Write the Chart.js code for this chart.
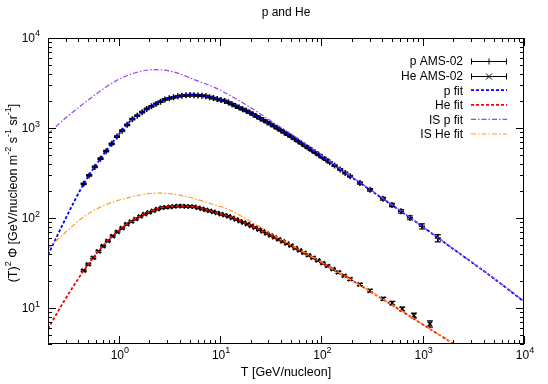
<!DOCTYPE html>
<html>
<head>
<meta charset="utf-8">
<script src="https://cdn.jsdelivr.net/npm/chart.js@4.4.0/dist/chart.umd.min.js"></script>
<style>
  html, body { margin: 0; padding: 0; background: #fff; }
</style>
</head>
<body>
<canvas id="c" width="548" height="384"></canvas>
<script>
// ---- data (T in GeV/nucleon, T^2 * flux) ----
const pT = [0.45,0.51,0.58,0.66,0.75,0.85,0.96,1.08,1.21,1.36,1.52,1.70,1.89,2.10,2.33,2.58,2.85,3.15,3.47,3.82,
  4.20,4.61,5.05,5.53,6.05,6.61,7.22,7.88,8.59,9.36,10.2,11.1,12.1,13.1,14.2,15.4,16.7,18.1,19.6,21.2,
  23.0,24.9,26.9,29.1,31.5,34.0,36.8,39.8,43.0,46.5,50.3,54.4,58.8,63.6,68.8,74.4,80.5,87.0,94.1,102,
  111,121,135,153,172,192,240,302,405,497,610,748,982,1410];
const pV = [240,298,370,457,553,668,804,935,1086,1255,1371,1500,1630,1746,1853,1964,2080,2138,2193,2254,
  2291,2307,2323,2317,2301,2291,2259,2203,2153,2099,2047,2000,1916,1839,1762,1687,1618,1552,1486,1416,
  1344,1280,1219,1161,1104,1048,993,940,893,847,802,757,715,675,636,600,566,534,504,474,
  445,416,383,347,317,292,245,206,164,140,119,101,81,60];
// relative errors
const pErr = [0.02,0.02,0.02,0.02,0.02,0.02,0.02,0.02,0.02,0.02,0.02,0.02,0.02,0.02,0.02,0.02,0.02,0.02,0.02,0.02,
  0.02,0.02,0.02,0.02,0.02,0.02,0.02,0.02,0.02,0.02,0.02,0.02,0.02,0.02,0.02,0.02,0.02,0.02,0.02,0.02,
  0.02,0.02,0.02,0.02,0.02,0.02,0.02,0.02,0.02,0.02,0.02,0.02,0.02,0.02,0.02,0.02,0.02,0.02,0.02,0.02,
  0.02,0.02,0.02,0.02,0.02,0.025,0.03,0.03,0.035,0.04,0.045,0.05,0.065,0.09];

const heT = [0.45,0.50,0.56,0.63,0.70,0.78,0.87,0.97,1.08,1.20,1.33,1.47,1.63,1.80,1.99,2.19,2.41,2.66,2.92,3.21,
  3.52,3.86,4.23,4.63,5.07,5.54,6.06,6.61,7.21,7.87,8.58,9.35,10.2,11.1,12.1,13.2,14.4,15.7,17.1,18.6,
  20.3,22.2,24.2,26.4,28.8,31.5,34.5,37.8,41.5,45.6,50.1,55.2,60.9,67.3,74.5,82.7,92.1,103,115,130,
  147,168,192,240,302,408,500,628,819,1178];
const heV = [26.1,30.6,36.3,42.8,48.8,55.8,63.2,70.2,77.4,85.7,91.6,97.7,104.5,110.9,115.8,120.6,125.8,130.3,131.9,133.5,
  135.2,136.2,135.8,135.2,134.6,133.7,130.3,126.9,123.6,120.5,117.2,114.0,110.7,107.7,104.5,100.4,96.6,92.7,89.2,85.7,
  82.0,78.2,74.6,71.1,67.8,64.4,61.2,58.1,55.1,52.2,49.5,46.5,43.9,41.2,38.7,36.3,33.9,31.6,29.4,27.1,
  25.0,22.9,21.0,18.3,15.6,12.7,11.4,9.8,8.3,6.7];
const heErr = [0.02,0.02,0.02,0.02,0.02,0.02,0.02,0.02,0.02,0.02,0.02,0.02,0.02,0.02,0.02,0.02,0.02,0.02,0.02,0.02,
  0.02,0.02,0.02,0.02,0.02,0.02,0.02,0.02,0.02,0.02,0.02,0.02,0.02,0.02,0.02,0.02,0.02,0.02,0.02,0.02,
  0.02,0.02,0.02,0.02,0.02,0.02,0.02,0.02,0.02,0.02,0.02,0.02,0.02,0.02,0.02,0.02,0.02,0.02,0.02,0.02,
  0.025,0.025,0.03,0.03,0.035,0.04,0.045,0.05,0.06,0.08];

// fit curves
const pFitT = [0.2,0.3,0.45,0.62,0.95,1.34,1.96,2.86,4,5.2,7,11.2,19,30,50,100,192,500,748,1000,2000,5000,10000];
const pFitV = [39,100,240,415,792,1240,1680,2080,2280,2330,2280,1995,1515,1140,805,482,292,139,101,80,45.5,21.5,11.8];
const heFitT = [0.2,0.27,0.32,0.4,0.45,0.6,0.83,1.2,1.76,2.6,3.76,5.5,8,12,19,25,50,100,192,500,1000,2028,5000];
const heFitV = [5.9,10.6,14.5,21.4,26.1,40.3,60.4,85.7,110,130,136.5,134,120,105,85,73.5,49.5,32.2,21.0,10.8,6.6,4.0,2.1];
const isPT = [0.2,0.3,0.43,0.6,0.92,1.3,2.2,3.5,5.5,8.9,19,30,50,100,200,500,1000,2000,5000,10000];
const isPV = [863,1300,1800,2400,3300,3950,4450,4200,3460,2810,1750,1250,860,500,287,141,80.5,45.6,21.6,12.0];
const isHeT = [0.2,0.3,0.45,0.7,1.25,2.4,4.2,8.9,11.7,19,30,50,100,200,500,1000,2028,5000];
const isHeV = [46,70,103,137,169,190,178,140,127,95,70,50.5,32.4,20.3,10.9,6.62,4.0,2.1];

const FONT = '"Liberation Sans", Arial, sans-serif';
const C_P = '#0000ff', C_HE = '#ff0000', C_ISP = '#9a40f0', C_ISHE = '#ff9a20';
const DASH_FIT = [3, 2], DASH_IS = [5, 2, 1.5, 2];

function pts(xs, ys){ return xs.map((x,i)=>({x:x, y:ys[i]})); }

// ---- error bars (drawn under the points) ----
const errBars = {
  id: 'errBars',
  beforeDatasetsDraw(chart){
    const c = chart.ctx, xs = chart.scales.x, ys = chart.scales.y, a = chart.chartArea;
    c.save();
    c.beginPath(); c.rect(a.left, a.top, a.right-a.left, a.bottom-a.top); c.clip();
    c.strokeStyle = '#000'; c.lineWidth = 1.2;
    chart.data.datasets.forEach(ds => {
      if(!ds.errs) return;
      ds.data.forEach((p,i) => {
        const x = xs.getPixelForValue(p.x);
        const y1 = ys.getPixelForValue(p.y*(1-ds.errs[i]));
        const y2 = ys.getPixelForValue(p.y*(1+ds.errs[i]));
        c.beginPath();
        c.moveTo(x, y1); c.lineTo(x, y2);
        c.moveTo(x-3, y1); c.lineTo(x+3, y1);
        c.moveTo(x-3, y2); c.lineTo(x+3, y2);
        c.stroke();
      });
    });
    c.restore();
  }
};

// ---- gnuplot-ish frame, inward ticks, labels, legend ----
function supText(c, parts, x, y, align, big, small){
  // parts: [text, isSup]
  let w = 0;
  parts.forEach(p => { c.font = (p[1]?small:big) + 'px ' + FONT; w += c.measureText(p[0]).width; });
  let cx = align === 'right' ? x - w : align === 'center' ? x - w/2 : x;
  c.textAlign = 'left';
  parts.forEach(p => {
    c.font = (p[1]?small:big) + 'px ' + FONT;
    c.textBaseline = 'middle';
    c.fillText(p[0], cx, p[1] ? y - 5 : y);
    cx += c.measureText(p[0]).width;
  });
}

const deco = {
  id: 'deco',
  afterDraw(chart){
    const c = chart.ctx, xs = chart.scales.x, ys = chart.scales.y, a = chart.chartArea;
    c.save();
    c.strokeStyle = '#000'; c.fillStyle = '#000'; c.lineWidth = 1;
    c.strokeRect(a.left+0.5, a.top+0.5, a.right-a.left-1, a.bottom-a.top-1);

    c.beginPath();
    for(let d=-1; d<=4; d++){
      for(let m=1; m<=9; m++){
        const v = m*Math.pow(10,d);
        if(v >= xs.min*0.999 && v <= xs.max*1.001){
          const x = Math.round(xs.getPixelForValue(v)) + 0.5, L = m===1 ? 8 : 4;
          c.moveTo(x, a.bottom); c.lineTo(x, a.bottom-L);
          c.moveTo(x, a.top); c.lineTo(x, a.top+L);
        }
        if(v >= ys.min*0.999 && v <= ys.max*1.001){
          const y = Math.round(ys.getPixelForValue(v)) + 0.5, L = m===1 ? 8 : 4;
          c.moveTo(a.left, y); c.lineTo(a.left+L, y);
          c.moveTo(a.right, y); c.lineTo(a.right-L, y);
        }
      }
    }
    c.stroke();

    // tick labels
    for(let d=0; d<=4; d++){
      const x = xs.getPixelForValue(Math.pow(10,d));
      supText(c, [['10',0],[String(d),1]], x+1, a.bottom+12, 'center', 12, 9);
    }
    for(let d=1; d<=4; d++){
      const y = ys.getPixelForValue(Math.pow(10,d));
      supText(c, [['10',0],[String(d),1]], a.left-8, y+1, 'right', 12, 9);
    }

    // titles
    c.font = '12px ' + FONT; c.textAlign = 'center'; c.textBaseline = 'middle';
    c.fillText('p and He', (a.left+a.right)/2, 13);
    c.font = '12.5px ' + FONT;
    c.fillText('T [GeV/nucleon]', (a.left+a.right)/2, 373);
    c.save();
    c.translate(14, (a.top+a.bottom)/2 + 2);
    c.rotate(-Math.PI/2);
    supText(c, [['(T)',0],['2',1],[' \u03A6 [GeV/nucleon m',0],['-2',1],[' s',0],['-1',1],[' sr',0],['-1',1],[']',0]], 0, 0, 'center', 12.5, 9);
    c.restore();

    // legend
    const rows = [
      {t:'p AMS-02', k:'err', s:'+'},
      {t:'He AMS-02', k:'err', s:'x'},
      {t:'p fit', col:C_P, dash:DASH_FIT, w:1.8},
      {t:'He fit', col:C_HE, dash:DASH_FIT, w:1.8},
      {t:'IS p fit', col:C_ISP, dash:DASH_IS, w:1.2},
      {t:'IS He fit', col:C_ISHE, dash:DASH_IS, w:1.2}
    ];
    const x1 = 471, x2 = 507;
    rows.forEach((r,i) => {
      const y = 61 + i*14.6;
      c.font = '12px ' + FONT; c.textAlign = 'right'; c.textBaseline = 'middle'; c.fillStyle = '#000';
      c.fillText(r.t, 463, y+1);
      c.save();
      if(r.k === 'err'){
        c.strokeStyle = '#000'; c.lineWidth = 1; c.beginPath();
        const yy = Math.round(y)+0.5;
        c.moveTo(x1, yy); c.lineTo(x2, yy);
        c.moveTo(x1+0.5, yy-3); c.lineTo(x1+0.5, yy+3);
        c.moveTo(x2-0.5, yy-3); c.lineTo(x2-0.5, yy+3);
        const xm = (x1+x2)/2;
        if(r.s === '+'){ c.moveTo(xm, yy-3); c.lineTo(xm, yy+3); }
        else { c.moveTo(xm-3, yy-3); c.lineTo(xm+3, yy+3); c.moveTo(xm-3, yy+3); c.lineTo(xm+3, yy-3); }
        c.stroke();
      } else {
        c.strokeStyle = r.col; c.lineWidth = r.w; c.setLineDash(r.dash);
        c.beginPath(); c.moveTo(x1, y); c.lineTo(x2, y); c.stroke();
      }
      c.restore();
    });
    c.restore();
  }
};

function fitSet(label, xs, ys, col, dash, w){
  return { label: label, data: pts(xs, ys), showLine: true, borderColor: col, borderWidth: w,
    borderDash: dash, pointRadius: 0, fill: false, cubicInterpolationMode: 'monotone' };
}

new Chart(document.getElementById('c').getContext('2d'), {
  type: 'scatter',
  data: {
    datasets: [
      fitSet('IS He fit', isHeT, isHeV, C_ISHE, DASH_IS, 1.2),
      fitSet('IS p fit', isPT, isPV, C_ISP, DASH_IS, 1.2),
      fitSet('He fit', heFitT, heFitV, C_HE, DASH_FIT, 1.8),
      fitSet('p fit', pFitT, pFitV, C_P, DASH_FIT, 1.8),
      { label: 'He AMS-02', data: pts(heT, heV), errs: heErr, showLine: false,
        pointStyle: 'crossRot', pointRadius: 3, borderColor: '#000', backgroundColor: '#000', borderWidth: 1.3 },
      { label: 'p AMS-02', data: pts(pT, pV), errs: pErr, showLine: false,
        pointStyle: 'cross', pointRadius: 3, borderColor: '#000', backgroundColor: '#000', borderWidth: 1.5 }
    ]
  },
  options: {
    responsive: false,
    animation: false,
    devicePixelRatio: 1,
    events: [],
    layout: { padding: { left: 48, right: 24, top: 38, bottom: 40 } },
    scales: {
      x: { type: 'logarithmic', min: 0.2, max: 10000, display: false },
      y: { type: 'logarithmic', min: 4, max: 10000, display: false }
    },
    plugins: { legend: { display: false }, tooltip: { enabled: false }, title: { display: false } }
  },
  plugins: [errBars, deco]
});
</script>
</body>
</html>
